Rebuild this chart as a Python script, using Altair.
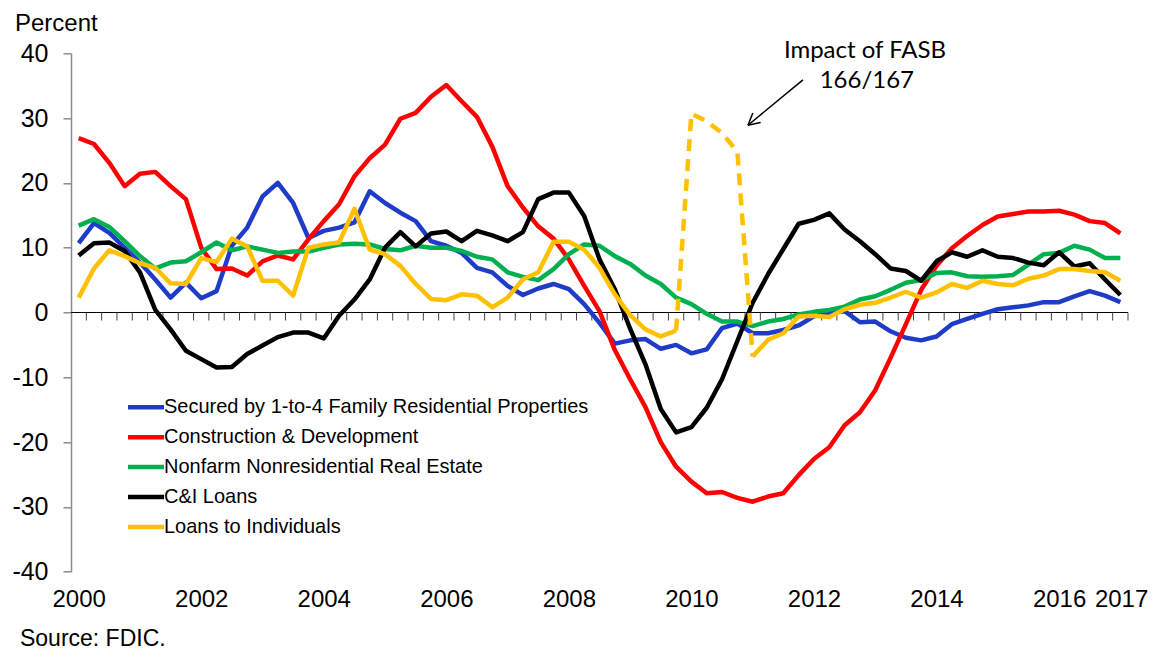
import altair as alt
import pandas as pd

# ---------------- data (quarterly, 2000Q1 .. 2017Q1) ----------------
quarters = list(range(69))

series_names = [
    "Secured by 1-to-4 Family Residential Properties",
    "Construction & Development",
    "Nonfarm Nonresidential Real Estate",
    "C&I Loans",
    "Loans to Individuals",
]
series_colors = ["#1F3CC8", "#FF0000", "#00B050", "#000000", "#FFC000"]

blue = [10.7, 13.8, 12.3, 10.0, 7.7, 5.1, 2.3, 4.6, 2.2, 3.3,
        10.3, 13.1, 17.9, 20.0, 16.9, 11.5, 12.6, 13.1, 13.9, 18.7,
        16.9, 15.4, 14.1, 11.0, 10.3, 9.2, 6.9, 6.2, 4.1, 2.7,
        3.7, 4.4, 3.6, 1.3, -1.6, -4.8, -4.3, -4.1, -5.6, -5.0,
        -6.3, -5.7, -2.4, -1.7, -3.2, -3.2, -2.7, -2.0, -0.6, 0.0,
        0.2, -1.5, -1.4, -2.9, -3.9, -4.3, -3.7, -1.8, -1.0, -0.2,
        0.5, 0.8, 1.1, 1.6, 1.6, 2.5, 3.3, 2.6, 1.6]

red = [26.9, 26.0, 23.1, 19.5, 21.4, 21.7, 19.5, 17.5, 10.0, 6.7,
       6.8, 5.7, 7.9, 8.8, 8.2, 11.3, 14.1, 16.7, 21.0, 23.8,
       25.9, 29.9, 30.8, 33.3, 35.1, 32.6, 30.2, 25.6, 19.5, 16.2,
       13.3, 11.4, 8.2, 4.1, 0.2, -5.8, -10.3, -14.6, -20.0, -23.8,
       -26.1, -27.9, -27.7, -28.6, -29.2, -28.4, -27.9, -25.1, -22.6, -20.8,
       -17.4, -15.4, -12.0, -7.0, -1.8, 3.5, 7.2, 9.9, 11.8, 13.5,
       14.8, 15.2, 15.6, 15.6, 15.7, 15.1, 14.1, 13.8, 12.2]

green = [13.4, 14.4, 13.2, 11.0, 8.7, 6.8, 7.7, 7.9, 9.3, 10.8,
         9.6, 10.2, 9.7, 9.2, 9.4, 9.4, 10.0, 10.5, 10.6, 10.5,
         9.8, 9.6, 10.3, 10.0, 10.0, 9.5, 8.6, 8.2, 6.2, 5.5,
         5.0, 6.7, 9.0, 10.5, 10.3, 8.7, 7.5, 5.7, 4.4, 2.3,
         1.3, -0.2, -1.4, -1.4, -2.1, -1.4, -1.0, -0.3, 0.1, 0.4,
         0.9, 2.0, 2.5, 3.5, 4.6, 5.0, 6.1, 6.2, 5.6, 5.5,
         5.6, 5.8, 7.4, 9.0, 9.2, 10.3, 9.7, 8.4, 8.4]

black = [8.8, 10.7, 10.8, 9.5, 6.2, 0.4, -2.6, -5.9, -7.2, -8.5,
         -8.4, -6.4, -5.1, -3.8, -3.1, -3.1, -4.0, -0.5, 2.0, 5.1,
         10.0, 12.4, 10.2, 12.2, 12.5, 11.0, 12.6, 11.9, 11.0, 12.4,
         17.5, 18.5, 18.5, 14.9, 8.2, 3.6, -2.5, -8.0, -14.9, -18.5,
         -17.7, -14.7, -10.3, -4.4, 1.5, 5.9, 9.8, 13.7, 14.3, 15.3,
         12.8, 11.0, 9.0, 6.8, 6.4, 4.9, 7.9, 9.3, 8.6, 9.6,
         8.6, 8.4, 7.7, 7.3, 9.3, 7.1, 7.6, 5.1, 2.7]

yellow = [2.3, 6.8, 9.6, 8.7, 7.6, 6.9, 4.5, 4.4, 8.4, 7.8,
          11.4, 10.2, 4.9, 4.9, 2.6, 10.0, 10.5, 10.8, 16.0, 9.7,
          9.0, 7.2, 4.4, 2.1, 1.9, 2.8, 2.6, 0.8, 2.3, 5.1,
          6.2, 10.9, 10.9, 9.7, 6.9, 2.8, -0.4, -2.6, -3.7, -2.8,
          None, None, None, None, -6.8, -4.2, -3.2, -0.6, -0.5, -0.7,
          0.5, 1.2, 1.5, 2.3, 3.2, 2.3, 3.1, 4.4, 3.8, 4.9,
          4.4, 4.2, 5.2, 5.7, 6.7, 6.7, 6.4, 6.2, 4.9]

# Loans to individuals during the FASB 166/167 consolidation (dashed)
fasb_quarters = [39, 40, 41, 42, 43, 44]
fasb_values = [-2.8, 30.7, 29.5, 27.7, 24.8, -6.8]

year_tick_values = [0, 8, 16, 24, 32, 40, 48, 56, 64, 68.05]
y_tick_values = [-40, -30, -20, -10, 0, 10, 20, 30, 40]

# ---------------- tables ----------------
rows = []
for name, vals in zip(series_names, [blue, red, green, black, yellow]):
    part = 0
    for q, v in zip(quarters, vals):
        if v is None:
            part += 1
            continue
        rows.append({"idx": q, "value": v, "series": name, "seg": f"{name}|{part}"})
df = pd.DataFrame(rows)

df_fasb = pd.DataFrame({"idx": fasb_quarters, "value": fasb_values})

df_zero = pd.DataFrame({"idx": [-0.5], "idx2": [68.5], "value": [0.0]})
df_ticks = pd.DataFrame({"idx": [q + 0.5 for q in quarters], "value": 0.0, "value2": -1.235})

df_ann = pd.DataFrame({
    "idx": [51.33, 51.45],
    "value": [39.3, 34.6],
    "text": ["Impact of FASB", "166/167"],
})
df_arrow = pd.DataFrame({
    "idx": [47.28, 43.69, 43.69],
    "value": [35.9, 28.9, 28.9],
    "idx2": [43.69, 44.52, 44.01],
    "value2": [28.9, 29.32, 30.79],
})

FONT = "Liberation Sans"
xs = alt.Scale(domain=[-0.5, 68.5], nice=False, zero=False)
ys = alt.Scale(domain=[-40, 40], nice=False, zero=False)

x_axis = alt.Axis(
    values=year_tick_values,
    labelExpr="datum.value > 68 ? '2017' : format(2000 + datum.value / 4, 'd')",
    ticks=False, domain=False, grid=False, title=None,
    labelFont=FONT, labelFontSize=24, labelColor="black",
    labelPadding=16, labelFlush=False, labelOverlap=False, labelBound=False,
)
y_axis = alt.Axis(
    values=y_tick_values, grid=False, title=None,
    labelExpr="toString(datum.value)",
    domain=True, domainColor="#8C8C8C", domainWidth=1.5,
    ticks=True, tickColor="#8C8C8C", tickWidth=1.5, tickSize=8,
    labelFont=FONT, labelFontSize=25, labelColor="black", labelPadding=15,
)

zero_line = alt.Chart(df_zero).mark_rule(color="black", strokeWidth=1).encode(
    x=alt.X("idx:Q", scale=xs, axis=x_axis),
    x2="idx2:Q",
    y=alt.Y("value:Q", scale=ys, axis=y_axis),
)

ticks = alt.Chart(df_ticks).mark_rule(color="#404040", strokeWidth=1).encode(
    x=alt.X("idx:Q", scale=xs),
    y=alt.Y("value:Q", scale=ys),
    y2="value2:Q",
)

lines = alt.Chart(df).mark_line(strokeWidth=4.5, strokeJoin="round").encode(
    x=alt.X("idx:Q", scale=xs),
    y=alt.Y("value:Q", scale=ys),
    color=alt.Color(
        "series:N",
        scale=alt.Scale(domain=series_names, range=series_colors),
        sort=series_names,
        legend=alt.Legend(
            orient="none", legendX=65, legendY=344, title=None,
            symbolType="M-3,0H3", symbolSize=144, symbolStrokeWidth=4.5,
            labelFont=FONT, labelFontSize=20, labelColor="black",
            labelOffset=8, rowPadding=9.9, padding=0,
            labelLimit=600,
        ),
    ),
    detail="seg:N",
)

fasb = alt.Chart(df_fasb).mark_line(
    strokeWidth=4.5, color="#FFC000", strokeDash=[12, 8], strokeJoin="round"
).encode(
    x=alt.X("idx:Q", scale=xs),
    y=alt.Y("value:Q", scale=ys),
)

ann = alt.Chart(df_ann).mark_text(
    font="Lato", fontSize=24, color="black", align="center", baseline="alphabetic"
).encode(
    x=alt.X("idx:Q", scale=xs),
    y=alt.Y("value:Q", scale=ys),
    text="text:N",
)

arrow = alt.Chart(df_arrow).mark_rule(color="black", strokeWidth=1.5).encode(
    x=alt.X("idx:Q", scale=xs),
    y=alt.Y("value:Q", scale=ys),
    x2="idx2:Q",
    y2="value2:Q",
)

percent = alt.Chart(pd.DataFrame({"t": ["Percent"]})).mark_text(
    font=FONT, fontSize=24, color="black", align="left", baseline="alphabetic"
).encode(x=alt.value(-56), y=alt.value(-22), text="t:N")

source = alt.Chart(pd.DataFrame({"t": ["Source: FDIC."]})).mark_text(
    font=FONT, fontSize=23, color="black", align="left", baseline="alphabetic"
).encode(x=alt.value(-51), y=alt.value(593), text="t:N")

chart = alt.layer(zero_line, ticks, lines, fasb, arrow, ann, percent, source).properties(
    width=1057,
    height=518.4,
    autosize=alt.AutoSizeParams(type="none"),
    padding={"left": 63, "top": 45.3, "right": 20, "bottom": 80},
    background="white",
).configure_view(stroke=None)

chart.save("out.html", embed_options={"renderer": "svg", "actions": False})
